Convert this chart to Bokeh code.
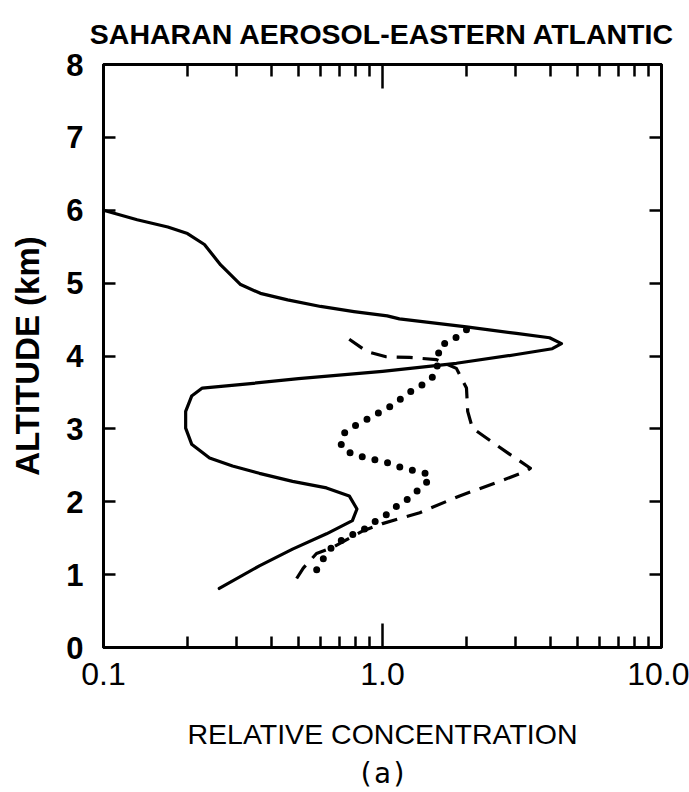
from bokeh.plotting import figure
from bokeh.models import (LogAxis, LinearAxis, FixedTicker, Title, CustomJSTickFormatter)
from bokeh.embed import file_html
from bokeh.resources import INLINE

# ---- data ----
solid_x = [0.1, 0.132, 0.17, 0.20, 0.23, 0.263, 0.31, 0.365, 0.457, 0.60, 0.79, 1.04,
           1.15, 2.0, 3.02, 3.97, 4.38, 4.06, 3.02, 1.84, 1.0, 0.50, 0.315, 0.226,
           0.207, 0.197, 0.197, 0.207, 0.24, 0.29, 0.362, 0.476, 0.63, 0.76, 0.81,
           0.78, 0.63, 0.476, 0.362, 0.26]
solid_y = [6.0, 5.87, 5.77, 5.68, 5.53, 5.25, 4.98, 4.86, 4.77, 4.68, 4.61, 4.55,
           4.51, 4.40, 4.31, 4.25, 4.17, 4.10, 4.02, 3.90, 3.79, 3.69, 3.61, 3.56,
           3.45, 3.24, 3.01, 2.79, 2.60, 2.49, 2.39, 2.28, 2.19, 2.08, 1.90,
           1.74, 1.56, 1.35, 1.12, 0.81]

dashed_x = [0.76, 0.88, 1.03, 1.25, 1.56, 1.84, 2.0, 2.02, 2.10, 2.25, 2.81, 3.39,
            3.28, 2.63, 1.89, 1.36, 1.0, 0.85, 0.66, 0.58, 0.52, 0.48]
dashed_y = [4.23, 4.06, 3.99, 3.98, 3.95, 3.83, 3.56, 3.24, 3.01, 2.93, 2.67, 2.46,
            2.42, 2.28, 2.08, 1.85, 1.70, 1.60, 1.37, 1.29, 1.09, 0.88]

dotted_x = [2.0, 1.77, 1.60, 1.56, 1.44, 1.28, 1.18, 1.08, 0.99, 0.90, 0.81, 0.72,
            0.71, 0.78, 0.88, 0.975, 1.08, 1.18, 1.32, 1.47, 1.45, 1.36, 1.25, 1.15,
            1.04, 0.95, 0.85, 0.76, 0.69, 0.64, 0.60, 0.57]
dotted_y = [4.36, 4.21, 4.14, 3.76, 3.64, 3.53, 3.43, 3.32, 3.24, 3.15, 3.06, 2.93,
            2.76, 2.65, 2.60, 2.56, 2.52, 2.46, 2.42, 2.38, 2.28, 2.18, 2.05, 1.97,
            1.83, 1.74, 1.61, 1.53, 1.44, 1.33, 1.16, 1.01]

y_ticks = [0, 1, 2, 3, 4, 5, 6, 7, 8]
x_major_ticks = [0.1, 1.0, 10.0]
x_minor_ticks = [0.2, 0.3, 0.4, 0.5, 0.6, 0.7, 0.8, 0.9, 2, 3, 4, 5, 6, 7, 8, 9]
x_tick_labels = ["0.1", "1.0", "10.0"]

title_text = "SAHARAN AEROSOL-EASTERN ATLANTIC"
x_label = "RELATIVE CONCENTRATION"
y_label = "ALTITUDE (km)"
sub_label = "(a)"

p = figure(width=689, height=792, x_axis_type="log", x_range=(0.1, 10), y_range=(0, 8),
           output_backend="svg", toolbar_location=None,
           min_border_left=103, min_border_right=28, min_border_top=62, min_border_bottom=145)

p.grid.visible = False
p.outline_line_color = "black"
p.outline_line_width = 3

p.title.text = title_text
p.title.align = "center"
p.title.text_font = "Liberation Sans"
p.title.text_font_style = "bold"
p.title.text_font_size = "28.5px"
p.title.text_color = "black"
p.title.standoff = 30

fmt = CustomJSTickFormatter(args=dict(labels=x_tick_labels),
                            code="return labels[Math.round(Math.log10(tick)) + 1];")

xa = p.xaxis[0]
xa.ticker = FixedTicker(ticks=x_major_ticks, minor_ticks=x_minor_ticks)
xa.formatter = fmt
xa.axis_line_width = 3
xa.major_tick_in = 24
xa.major_tick_out = 0
xa.minor_tick_in = 11
xa.minor_tick_out = 0
xa.major_tick_line_width = 2.5
xa.minor_tick_line_width = 2.5
xa.major_label_standoff = 15
xa.major_label_text_font = "Liberation Sans"
xa.major_label_text_font_size = "32px"
xa.major_label_text_color = "black"
xa.axis_label = x_label
xa.axis_label_text_font = "Liberation Sans"
xa.axis_label_text_font_style = "normal"
xa.axis_label_text_font_size = "28.5px"
xa.axis_label_text_color = "black"
xa.axis_label_standoff = 30

ya = p.yaxis[0]
ya.ticker = FixedTicker(ticks=y_ticks)
ya.axis_line_width = 3
ya.major_tick_in = 12
ya.major_tick_out = 0
ya.minor_tick_line_color = None
ya.major_tick_line_width = 2.5
ya.major_label_standoff = 20
ya.major_label_text_font = "Liberation Sans"
ya.major_label_text_font_style = "bold"
ya.major_label_text_font_size = "31px"
ya.major_label_text_color = "black"
ya.axis_label = y_label
ya.axis_label_text_font = "Liberation Sans"
ya.axis_label_text_font_style = "bold"
ya.axis_label_text_font_size = "33px"
ya.axis_label_text_color = "black"
ya.axis_label_standoff = 17

top = LogAxis(ticker=FixedTicker(ticks=x_major_ticks, minor_ticks=x_minor_ticks),
              axis_line_width=3, major_tick_in=24, major_tick_out=0,
              minor_tick_in=12, minor_tick_out=0, major_tick_line_width=2.5,
              minor_tick_line_width=2.5, major_label_text_font_size="0px",
              major_label_text_color=None, major_label_standoff=0)
p.add_layout(top, "above")

right = LinearAxis(ticker=FixedTicker(ticks=y_ticks), axis_line_width=3, major_tick_in=12,
                   major_tick_out=0, minor_tick_line_color=None, major_tick_line_width=2.5,
                   major_label_text_font_size="0px", major_label_text_color=None,
                   major_label_standoff=0)
p.add_layout(right, "right")

p.add_layout(Title(text=sub_label, align="center", text_font="DejaVu Sans Mono",
                   text_font_size="28px", text_font_style="normal", text_color="black",
                   standoff=4),
             "below")

p.line(solid_x, solid_y, line_color="black", line_width=3.2, line_join="round", line_cap="round")
p.line(dashed_x, dashed_y, line_color="black", line_width=3.2, line_dash="16 10",
       line_join="round")
p.line(dotted_x, dotted_y, line_color="black", line_width=7, line_dash="0 13",
       line_cap="round", line_join="round")

open("out.html", "w").write(file_html(p, INLINE))
